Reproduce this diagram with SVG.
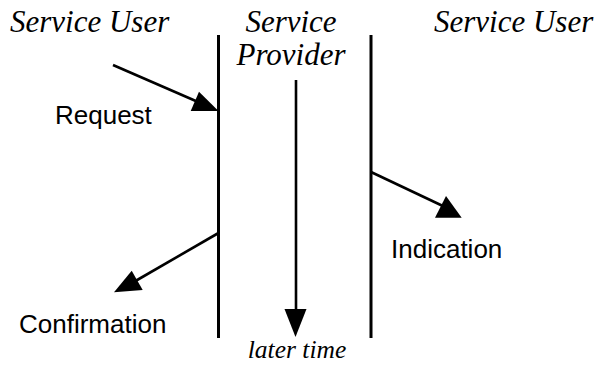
<svg xmlns="http://www.w3.org/2000/svg" width="611" height="365" viewBox="0 0 611 365">
  <style>
    .title { font-family: "Liberation Serif", "Times New Roman", serif; font-style: italic; font-size: 31px; fill: #000; }
    .label { font-family: "Liberation Sans", Arial, sans-serif; font-size: 26px; fill: #000; }
    .note { font-family: "Liberation Serif", "Times New Roman", serif; font-style: italic; font-size: 25.5px; fill: #000; }
    .rail { stroke: #000; stroke-width: 3; fill: none; }
    .shaft { stroke: #000; stroke-width: 2.6; fill: none; }
    .head { fill: #000; stroke: none; }
  </style>
  <rect width="611" height="365" fill="#fff"/>

  <!-- column headings -->
  <g id="user-left">
    <text class="title" x="10" y="32">Service User</text>
  </g>
  <g id="provider">
    <text class="title" x="291" y="32" text-anchor="middle">Service</text>
    <text class="title" x="291" y="65" text-anchor="middle">Provider</text>
  </g>
  <g id="user-right">
    <text class="title" x="434" y="32">Service User</text>
  </g>

  <!-- interface boundaries -->
  <g id="boundaries">
    <line class="rail" x1="218.5" y1="35" x2="218.5" y2="338"/>
    <line class="rail" x1="371" y1="35" x2="371" y2="338"/>
  </g>

  <!-- primitive labels -->
  <g id="request">
    <text class="label" x="55" y="124">Request</text>
  </g>
  <g id="indication">
    <text class="label" x="391" y="258">Indication</text>
  </g>
  <g id="confirmation">
    <text class="label" x="19" y="333">Confirmation</text>
  </g>
  <g id="time">
    <text class="note" x="297" y="358" text-anchor="middle">later time</text>
  </g>

  <!-- connectors -->
  <g id="connectors">
    <line class="shaft" x1="113" y1="65" x2="205" y2="105"/>
    <polygon class="head" points="218.5,111 199,91.7 190.7,111"/>

    <line class="shaft" x1="371" y1="172" x2="445" y2="207"/>
    <polygon class="head" points="461.7,217.7 446,196 435,217.7"/>

    <line class="shaft" x1="218.5" y1="233" x2="132" y2="283"/>
    <polygon class="head" points="114,292.3 131.7,270.7 142.7,290"/>

    <line class="shaft" x1="296" y1="80" x2="296" y2="312"/>
    <polygon class="head" points="284.5,309 306.5,309 295.5,337"/>
  </g>
</svg>
